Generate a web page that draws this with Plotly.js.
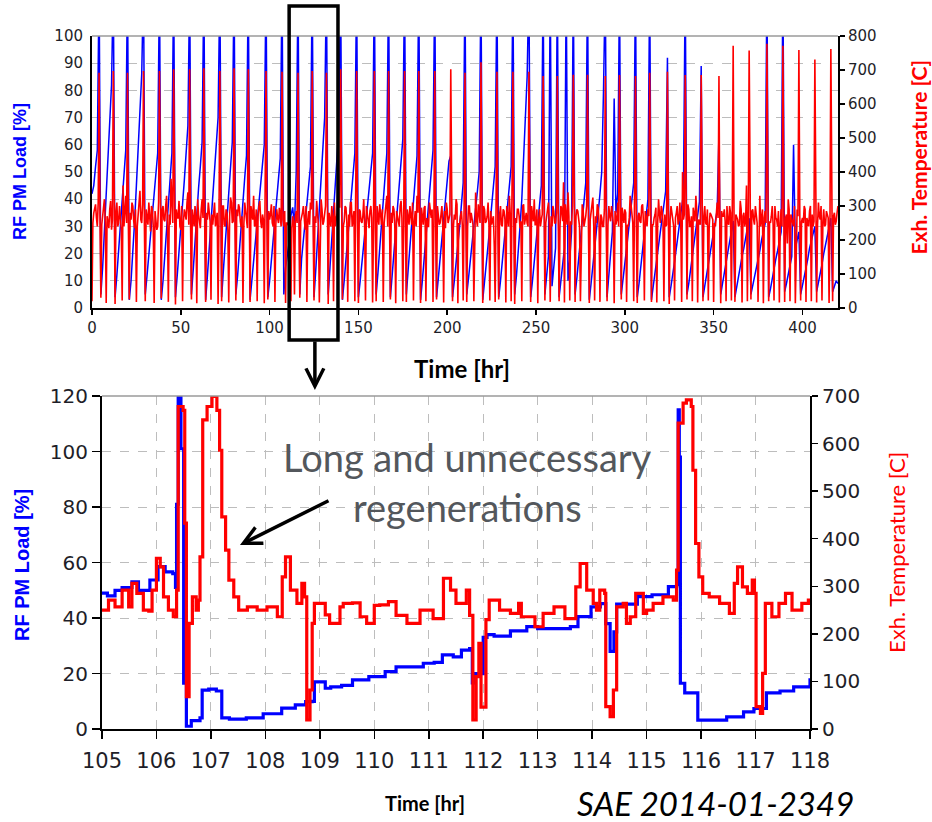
<!DOCTYPE html>
<html><head><meta charset="utf-8">
<script src="https://cdn.plot.ly/plotly-3.0.1.min.js"></script>
<style>html,body{margin:0;padding:0;background:#fff}#chart{width:932px;height:822px}</style>
</head><body><div id="chart"></div>
<script>
// ---- Top chart: samples every half hour, 0..420 hr ----
const topStartHr = 0;
const topStepHr = 1;
// RF PM Load [%] (on the hour)
const loadTop = [
42,45,52,58,120,5,15,28,40,52,
65,82,120,4,12,22,30,38,48,58,
120,3,10,20,32,45,58,73,86,120,
5,12,20,28,35,42,50,57,120,3,
10,20,30,40,48,57,120,4,12,20,
30,38,47,57,67,120,5,14,25,35,
44,52,61,120,3,12,22,32,42,50,
60,70,120,4,14,24,34,44,52,61,
120,5,12,22,32,40,48,56,120,3,
10,17,25,32,38,45,52,60,120,4,
10,18,25,33,40,48,55,120,5,15,
20,24,34,37,30,50,120,5,18,25,
32,40,46,52,120,4,14,25,36,47,
58,70,120,5,15,26,37,48,57,66,
120,3,10,18,26,34,42,50,57,120,
4,10,17,24,30,37,44,50,57,120,
5,13,22,31,40,48,57,120,4,12,
20,29,37,45,54,62,120,5,14,23,
32,40,48,56,120,3,10,18,26,34,
42,50,58,120,4,11,18,25,32,40,
47,54,56,4,10,16,22,30,38,46,
120,5,11,17,24,30,37,43,50,120,
3,9,16,23,30,37,44,52,120,4,
10,17,24,31,38,45,52,120,5,12,
20,30,40,55,65,85,120,4,10,17,
24,31,38,45,120,5,12,19,120,8,
15,22,120,4,10,16,22,120,10,18,
28,120,5,11,18,25,32,39,46,120,
3,9,15,21,28,35,42,50,80,120,
4,12,20,28,77,35,42,120,5,10,
16,22,28,34,40,46,120,4,9,15,
21,27,33,40,120,3,8,13,18,23,
28,33,38,43,92,4,8,12,17,22,
27,32,37,42,120,5,9,14,19,24,
29,34,39,89,4,8,12,16,20,24,
28,32,36,64,5,9,13,17,21,25,
29,32,4,8,11,15,19,22,26,30,
33,5,8,11,14,18,21,25,28,31,
120,4,7,11,14,18,21,24,28,120,
6,9,12,16,19,60,22,25,28,5,
8,12,15,18,22,25,28,30,6,9,
13,16,20,23,27,30,33,6,8,10,
9
];
// Exh. Temperature [C] (on the hour)
const tempTop = [
20,280,305,240,692,30,265,320,15,255,
290,230,697,12,310,250,275,22,240,330,
692,25,260,300,235,18,285,345,250,697,
20,270,310,225,290,15,260,240,697,28,
300,255,330,18,245,280,702,10,265,315,
230,20,290,260,340,702,25,250,300,14,
275,235,320,705,18,260,290,24,245,310,
255,12,697,20,300,240,280,16,325,250,
705,22,270,295,238,15,310,260,702,18,
280,330,245,20,300,255,275,14,697,25,
260,305,240,18,290,250,270,695,240,15,
250,240,20,270,40,285,692,30,265,300,
230,18,285,310,697,22,250,275,16,320,
245,290,692,12,265,300,20,240,280,330,
702,25,255,295,18,240,310,265,20,697,
15,285,250,320,22,270,235,300,16,697,
20,260,305,245,18,280,330,697,25,250,
290,14,270,240,315,20,697,18,260,300,
245,22,285,330,697,15,255,295,20,240,
310,265,18,697,25,280,250,300,16,235,
290,260,702,20,275,320,14,245,285,22,
692,18,300,250,265,20,340,240,280,723,
15,290,255,310,22,245,270,18,695,25,
300,240,285,16,260,330,20,695,12,250,
290,235,20,305,265,250,695,18,280,320,
245,14,290,260,682,22,270,310,18,240,
285,250,682,20,300,255,16,275,340,22,
245,686,18,290,260,20,305,240,270,686,
15,280,325,22,250,295,18,265,240,682,
20,300,255,275,14,245,310,685,25,260,
290,18,240,330,265,20,682,15,280,250,
305,22,260,290,692,18,245,275,16,320,
250,285,20,240,695,12,300,265,22,280,
245,310,18,260,685,25,290,240,20,275,
330,16,255,685,20,300,245,22,280,265,
18,240,310,682,14,270,290,20,250,300,
22,771,18,265,240,315,16,280,255,20,
757,25,290,245,270,18,330,260,14,285,
777,20,250,300,22,265,240,16,290,771,
18,275,320,20,255,240,14,290,759,22,
265,300,18,250,285,20,240,731,16,310,
260,22,290,245,270,15,762,20,280,255,
300
];
// Exh. Temperature [C] (at half past each hour)
const tempTopHalf = [
250,300,265,310,270,245,290,250,270,235,
315,260,255,285,240,300,230,360,295,250,
240,280,310,255,290,240,320,260,305,245,
290,245,265,300,240,285,230,310,255,290,
260,300,240,275,380,250,235,290,265,240,
300,255,275,310,245,250,290,240,270,320,
245,290,265,230,280,310,255,275,300,240,
280,250,265,300,245,290,230,270,310,255,
240,290,305,255,270,245,285,235,255,300,
260,240,290,270,315,235,260,300,245,285,
275,250,300,245,265,295,240,260,285,250,
245,260,235,255,270,250,270,255,280,240,
300,260,245,290,250,270,315,240,265,290,
255,300,245,280,240,270,310,260,350,295,
260,240,300,250,275,310,240,285,260,250,
290,255,270,240,300,245,285,265,240,260,
300,245,275,290,250,310,240,265,280,300,
240,285,255,300,265,245,260,290,245,270,
310,255,240,280,260,295,245,300,265,240,
275,290,250,255,300,245,270,240,285,310,
250,275,290,240,260,305,250,270,245,290,
265,240,300,280,245,290,260,305,250,265,
300,250,270,245,285,260,180,295,255,275,
245,290,260,300,240,275,310,250,265,290,
270,255,300,245,280,240,265,300,255,245,
290,260,240,275,300,250,285,245,270,300,
250,280,265,240,290,370,305,245,270,255,
300,250,270,285,240,265,290,255,300,245,
260,295,245,270,305,250,275,240,290,265,
245,270,300,250,285,260,240,275,295,250,
280,245,265,300,250,290,240,270,255,300,
250,285,240,270,300,245,265,295,250,275,
300,250,275,245,290,260,280,240,265,300,
260,245,400,275,250,305,240,270,295,255,
285,260,245,300,270,250,290,240,275,260,
250,295,265,240,285,270,255,300,245,280,
300,250,275,260,245,290,270,240,360,265,
245,285,260,300,250,275,240,290,265,250,
290,255,270,245,300,260,285,250,240,295,
265,190,290,275,250,300,245,270,285,255,
250,290,265,240,300,275,255,285,245,270,
300,255,240,285,265,250,290,270,245,280
];
const topHours = loadTop.map((_, i) => topStartHr + i * topStepHr);
// interleave on-the-hour and half-past temperature samples
const tempHours = [], tempVals = [];
tempTop.forEach((v, i) => {
  tempHours.push(topStartHr + i * topStepHr); tempVals.push(v);
  if (i < tempTopHalf.length) { tempHours.push(topStartHr + (i + 0.5) * topStepHr); tempVals.push(tempTopHalf[i]); }
});
const topTicks = [0, 50, 100, 150, 200, 250, 300, 350, 400];

// ---- Bottom chart: zoom 105..118 hr ----
const zoomLoadTime = [105.0,105.1,105.24,105.37,105.55,105.67,105.8,105.88,106.03,106.16,106.3,106.35,106.37,106.4,106.45,106.5,106.55,106.64,106.8,106.84,106.96,107.1,107.2,107.34,107.65,107.96,108.3,108.55,108.74,108.86,108.9,109.1,109.2,109.4,109.6,109.9,110.2,110.4,110.6,110.9,111.1,111.25,111.45,111.6,111.75,111.8,111.85,112.0,112.07,112.2,112.5,112.8,113.0,113.6,113.74,113.98,114.15,114.25,114.33,114.4,114.45,114.83,115.1,115.4,115.55,115.58,115.6,115.62,115.7,115.84,115.94,116.1,116.47,116.78,116.97,117.2,117.45,117.7,118.0];
const zoomLoad = [49,48,50,51,53,50,50,53.7,58.5,56.6,56,51,81,120,101,16.5,1,3,4,14,14.4,13.7,4,3.6,4,5.5,7.5,8.7,9.9,10,17,14.7,15.2,15.7,17.7,18.9,20.7,22.4,22.4,23.7,24,26.7,26,28.4,29,16.6,20,33,34,33.5,35.4,36.9,36.2,36.9,40.5,44,45.2,38,28,35,45,47.7,48.4,51.3,52,115,98,16.5,13,13,3.2,3.2,4.4,6.2,7.4,13,13.7,15.2,18.3];
const zoomTempTime = [105.0,105.12,105.24,105.37,105.49,105.55,105.64,105.76,105.86,105.92,106.0,106.07,106.13,106.22,106.31,106.37,106.4,106.49,106.52,106.55,106.6,106.66,106.73,106.77,106.8,106.85,106.93,107.02,107.11,107.16,107.2,107.27,107.33,107.42,107.51,107.67,107.85,108.03,108.22,108.31,108.37,108.46,108.58,108.67,108.72,108.76,108.82,108.86,108.9,109.1,109.18,109.37,109.43,109.6,109.74,109.86,110.0,110.1,110.26,110.4,110.6,110.84,110.9,111.08,111.27,111.4,111.5,111.69,111.75,111.81,111.87,111.92,111.96,112.05,112.11,112.3,112.5,112.65,112.7,112.95,113.1,113.3,113.5,113.7,113.78,113.9,114.02,114.08,114.14,114.23,114.25,114.33,114.39,114.45,114.57,114.63,114.7,114.8,114.94,115.0,115.12,115.3,115.49,115.55,115.58,115.67,115.73,115.82,115.85,115.9,115.96,116.03,116.15,116.34,116.52,116.61,116.67,116.76,116.85,116.94,116.98,117.01,117.09,117.13,117.18,117.3,117.43,117.55,117.67,117.85,117.97,118.0];
const zoomTemp = [250,271,257,292,257,306,285,250,248,292,359,341,278,250,236,292,678,670,433,68,222,278,250,271,362,650,678,699,670,586,446,376,313,278,250,257,250,257,236,320,362,292,264,306,278,19,82,222,264,240,222,257,264,265,236,222,260,261,268,239,222,250,250,232,317,292,264,292,239,19,110,180,46,230,271,250,243,264,236,215,243,257,232,299,348,292,264,250,292,285,47,26,82,257,264,222,236,285,243,250,264,278,271,334,643,685,692,678,544,390,320,285,278,264,243,306,341,299,285,313,285,47,33,117,264,236,264,285,250,264,271,271];

const BLUE = '#0000ff', RED = '#ff0000';
const traces = [
  {x: topHours, y: loadTop, xaxis: 'x', yaxis: 'y', type: 'scatter', mode: 'lines', line: {color: BLUE, width: 1.5}, hoverinfo: 'skip'},
  {x: tempHours, y: tempVals, xaxis: 'x', yaxis: 'y2', type: 'scatter', mode: 'lines', line: {color: RED, width: 1.6}, hoverinfo: 'skip'},
  {x: zoomLoadTime, y: zoomLoad, xaxis: 'x2', yaxis: 'y3', type: 'scatter', mode: 'lines', line: {color: BLUE, width: 3.2, shape: 'hv'}, hoverinfo: 'skip'},
  {x: zoomTempTime, y: zoomTemp, xaxis: 'x2', yaxis: 'y4', type: 'scatter', mode: 'lines', line: {color: RED, width: 3.2, shape: 'hv'}, hoverinfo: 'skip'}
];

const tf = (s) => ({family: 'DejaVu Sans, sans-serif', size: s, color: '#1e1e28'});
const axBase = {showline: true, linecolor: '#000', linewidth: 2, zeroline: false, tickcolor: '#000', tickwidth: 1.5, fixedrange: true};
const grid = {showgrid: true, gridcolor: '#bdbdbd', gridwidth: 1, griddash: 'dash'};
const txt = (x, y, text, font, extra) => Object.assign({xref: 'paper', yref: 'paper', x: x, y: y, text: text, showarrow: false, xanchor: 'center', yanchor: 'middle', font: font}, extra || {});

const layout = {
  width: 932, height: 822, autosize: false,
  margin: {l: 0, r: 0, t: 0, b: 0},
  paper_bgcolor: '#fff', plot_bgcolor: '#fff',
  showlegend: false,
  xaxis: Object.assign({}, axBase, {domain: [0.0987, 0.8991], anchor: 'y', range: [0, 420], tickvals: topTicks, ticks: 'outside', ticklen: 5, showgrid: false, tickfont: tf(15)}),
  yaxis: Object.assign({}, axBase, grid, {domain: [0.6253, 0.9562], anchor: 'x', range: [0, 100], dtick: 10, ticks: '', ticklabelstandoff: 4, tickfont: tf(15)}),
  yaxis2: Object.assign({}, axBase, {overlaying: 'y', side: 'right', anchor: 'x', range: [0, 800], dtick: 100, ticks: 'outside', ticklen: 5, showgrid: false, tickfont: tf(15)}),
  xaxis2: Object.assign({}, axBase, grid, {domain: [0.1094, 0.8691], anchor: 'y3', range: [105, 118], dtick: 1, ticks: 'outside', ticklen: 8, ticklabelstandoff: 4, tickfont: tf(21)}),
  yaxis3: Object.assign({}, axBase, grid, {domain: [0.1131, 0.5182], anchor: 'x2', range: [0, 120], dtick: 20, ticks: 'outside', ticklen: 8, tickfont: tf(20)}),
  yaxis4: Object.assign({}, axBase, {overlaying: 'y3', side: 'right', anchor: 'x2', range: [0, 700], dtick: 100, ticks: 'outside', ticklen: 6, showgrid: false, tickfont: tf(20)}),
  shapes: [
    {type: 'line', xref: 'x domain', yref: 'y domain', x0: 0, x1: 1, y0: 1, y1: 1, line: {color: '#9a9a9a', width: 1.5}},
    {type: 'line', xref: 'x2 domain', yref: 'y3 domain', x0: 0, x1: 1, y0: 1, y1: 1, line: {color: '#9a9a9a', width: 1.5}},
    {type: 'rect', xref: 'x', yref: 'paper', x0: 111, x1: 138.5, y0: 0.5864, y1: 0.9927, line: {color: '#000', width: 3.5}, fillcolor: 'rgba(0,0,0,0)'}
  ],
  annotations: [
    txt(0.0215, 0.7908, '<b>RF PM Load [%]</b>', {family: 'Liberation Sans, Arial', size: 18, color: BLUE}, {textangle: -90}),
    txt(0.9845, 0.8090, '<b>Exh. Temperature [C]</b>', {family: 'Lato, Open Sans', size: 21, color: RED}, {textangle: -90}),
    txt(0.4957, 0.5523, '<b>Time [hr]</b>', {family: 'Lato, Open Sans', size: 24, color: '#000'}),
    txt(0.0236, 0.3127, '<b>RF PM Load [%]</b>', {family: 'Liberation Sans, Arial', size: 20, color: BLUE}, {textangle: -90}),
    txt(0.9624, 0.3285, 'Exh. Temperature [C]', {family: 'Lato, Open Sans', size: 22, color: RED}, {textangle: -90}),
    txt(0.4560, 0.0231, '<b>Time [hr]</b>', {family: 'Lato, Open Sans', size: 20, color: '#000'}),
    txt(0.7672, 0.0231, '<i>SAE 2014-01-2349</i>', {family: 'Lato, Open Sans', size: 33, color: '#000'}),
    txt(0.5011, 0.4440, 'Long and unnecessary', {family: 'Lato, Open Sans', size: 38, color: '#53575c'}),
    txt(0.5011, 0.3832, 'regenerations', {family: 'Lato, Open Sans', size: 38, color: '#53575c'}),
    {xref: 'paper', yref: 'paper', x: 0.2575, y: 0.3370, ax: 90, ay: -45, text: '', showarrow: true, arrowhead: 5, arrowsize: 1, arrowwidth: 3.5, arrowcolor: '#000'},
    {xref: 'x', yref: 'paper', x: 125.5, y: 0.5255, ax: 0, ay: -50, text: '', showarrow: true, arrowhead: 5, arrowsize: 1, arrowwidth: 3.5, arrowcolor: '#000'}
  ]
};

Plotly.newPlot('chart', traces, layout, {staticPlot: true, displayModeBar: false});
</script></body></html>
